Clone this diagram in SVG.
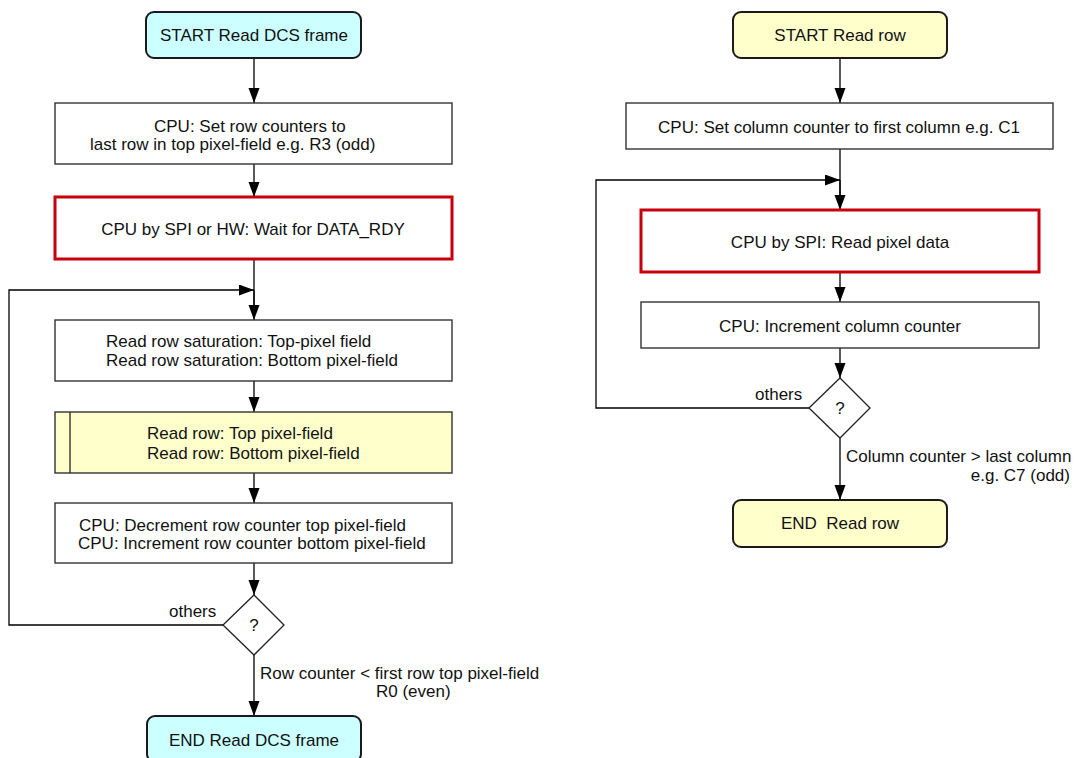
<svg xmlns="http://www.w3.org/2000/svg" width="1079" height="758" viewBox="0 0 1079 758">
<defs>
<style>
text{font-family:"Liberation Sans",Arial,sans-serif;font-size:17px;fill:#111;}
.m{text-anchor:middle;}
.e{text-anchor:end;}
.box{fill:#fff;stroke:#333;stroke-width:1.4;}
.red{fill:#fff;stroke:#c8000a;stroke-width:3;}
.term{stroke:#1a1a1a;stroke-width:2;}
.cyan{fill:#ccffff;}
.yel{fill:#ffffcc;}
.dec{fill:#fff;stroke:#222;stroke-width:1.3;}
.c{fill:none;stroke:#000;stroke-width:1.3;}
.a{marker-end:url(#ah);}
</style>
<marker id="ah" markerUnits="userSpaceOnUse" markerWidth="16" markerHeight="12" refX="15" refY="5.5" orient="auto">
<path d="M0,0 L15,5.5 L0,11 z" fill="#000"/>
</marker>
</defs>

<g id="connectors">
<path class="c a" d="M254,58 V103"/>
<path class="c a" d="M254,164 V197"/>
<path class="c" d="M254,259 V305"/>
<path class="c a" d="M254,290 V320"/>
<path class="c a" d="M223,625 H9 V290 H254"/>
<path class="c a" d="M254,381 V412"/>
<path class="c a" d="M254,473 V503"/>
<path class="c a" d="M254,563 V595"/>
<path class="c a" d="M254,655 V716"/>
<path class="c a" d="M840,58 V103"/>
<path class="c" d="M840,149 V195"/>
<path class="c a" d="M840,180 V210"/>
<path class="c a" d="M809,408 H596 V180 H840"/>
<path class="c a" d="M840,272 V302"/>
<path class="c a" d="M840,348 V378"/>
<path class="c a" d="M840,438 V500"/>
</g>

<g id="start-dcs">
<rect class="term cyan" x="146" y="12" width="215" height="46" rx="8"/>
<text class="m" x="254" y="41">START Read DCS frame</text>
</g>
<g id="set-row">
<rect class="box" x="55" y="103" width="397" height="61"/>
<text x="154" y="132">CPU: Set row counters to</text>
<text x="90" y="150">last row in top pixel-field e.g. R3 (odd)</text>
</g>
<g id="wait-ready">
<rect class="red" x="55" y="197" width="397" height="62"/>
<text class="m" x="253" y="235">CPU by SPI or HW: Wait for DATA_RDY</text>
</g>
<g id="read-sat">
<rect class="box" x="55" y="320" width="397" height="61"/>
<text x="106" y="347">Read row saturation: Top-pixel field</text>
<text x="106" y="366">Read row saturation: Bottom pixel-field</text>
</g>
<g id="read-row-sub">
<rect class="box yel" x="55" y="412" width="397" height="61"/>
<line x1="70" y1="412" x2="70" y2="473" stroke="#333" stroke-width="1.4"/>
<text x="147" y="439">Read row: Top pixel-field</text>
<text x="147" y="459">Read row: Bottom pixel-field</text>
</g>
<g id="dec-row">
<rect class="box" x="55" y="503" width="397" height="60"/>
<text x="79" y="531">CPU: Decrement row counter top pixel-field</text>
<text x="78" y="549">CPU: Increment row counter bottom pixel-field</text>
</g>
<g id="decision-left">
<polygon class="dec" points="254,595 284,625 254,655 223,625"/>
<text class="m" x="254" y="631">?</text>
<text x="169" y="617">others</text>
<text x="260" y="679">Row counter &lt; first row top pixel-field</text>
<text x="376" y="697">R0 (even)</text>
</g>
<g id="end-dcs">
<rect class="term cyan" x="147" y="716" width="214" height="46" rx="8"/>
<text class="m" x="254" y="746">END Read DCS frame</text>
</g>

<g id="start-row">
<rect class="term yel" x="733" y="12" width="214" height="46" rx="8"/>
<text class="m" x="840" y="41">START Read row</text>
</g>
<g id="set-col">
<rect class="box" x="626" y="103" width="427" height="46"/>
<text class="m" x="839" y="133">CPU: Set column counter to first column e.g. C1</text>
</g>
<g id="read-pixel">
<rect class="red" x="641" y="210" width="398" height="62"/>
<text class="m" x="840" y="248">CPU by SPI: Read pixel data</text>
</g>
<g id="inc-col">
<rect class="box" x="641" y="302" width="398" height="46"/>
<text class="m" x="840" y="332">CPU: Increment column counter</text>
</g>
<g id="decision-right">
<polygon class="dec" points="840,378 870,408 840,438 809,408"/>
<text class="m" x="840" y="414">?</text>
<text x="755" y="400">others</text>
<text x="846" y="462">Column counter &gt; last column</text>
<text class="e" x="1070" y="481">e.g. C7 (odd)</text>
</g>
<g id="end-row">
<rect class="term yel" x="733" y="500" width="214" height="47" rx="8"/>
<text class="m" x="840" y="529" xml:space="preserve">END  Read row</text>
</g>
</svg>
